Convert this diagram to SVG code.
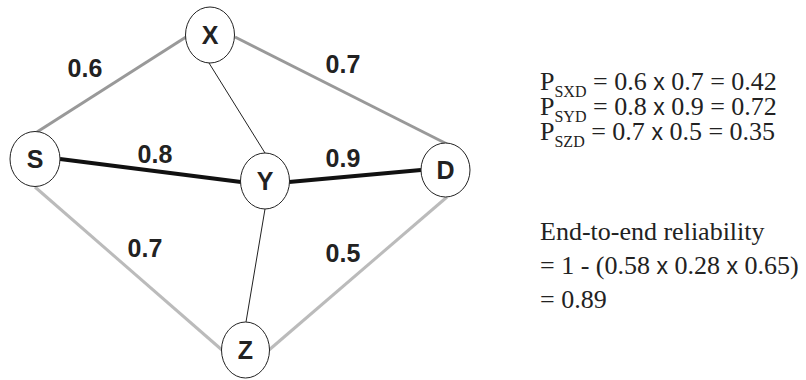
<svg xmlns="http://www.w3.org/2000/svg" width="806" height="380" viewBox="0 0 806 380">
  <style>
    .node ellipse { fill: #fff; stroke: #222; stroke-width: 1; }
    .node text { font-family: "Liberation Sans", Arial, sans-serif; font-weight: bold; font-size: 25px; fill: #222; text-anchor: middle; }
    .mid { stroke: #999; stroke-width: 3; fill: none; }
    .low { stroke: #bbb; stroke-width: 3; fill: none; }
    .strong { stroke: #111; stroke-width: 4; fill: none; }
    .thin { stroke: #222; stroke-width: 1; fill: none; }
    .w { font-family: "Liberation Sans", Arial, sans-serif; font-weight: bold; font-size: 25px; fill: #222; text-anchor: middle; }
    .eq { font-family: "Liberation Serif", "Times New Roman", serif; font-size: 26px; fill: #222; }
    .sub { font-size: 16px; }
    .x { font-family: "Liberation Sans", Arial, sans-serif; font-size: 23px; }
  </style>

  <!-- links -->
  <g id="connectors">
    <line class="mid" x1="37" y1="132" x2="186" y2="37"/>
    <line class="mid" x1="235" y1="37" x2="447" y2="144"/>
    <line class="thin" x1="209" y1="63" x2="265" y2="153"/>
    <line class="strong" x1="60" y1="159" x2="241" y2="182"/>
    <line class="strong" x1="289" y1="182" x2="421" y2="170"/>
    <line class="low" x1="35" y1="187" x2="222" y2="350"/>
    <line class="low" x1="269" y1="350" x2="447" y2="197"/>
    <line class="thin" x1="265" y1="209" x2="246" y2="322"/>
  </g>

  <!-- link weights -->
  <g id="weights">
    <text class="w" x="85" y="77">0.6</text>
    <text class="w" x="343" y="73">0.7</text>
    <text class="w" x="155" y="163">0.8</text>
    <text class="w" x="343" y="167">0.9</text>
    <text class="w" x="145" y="257">0.7</text>
    <text class="w" x="343" y="262">0.5</text>
  </g>

  <g id="node-X" class="node">
    <ellipse cx="210" cy="35" rx="24.5" ry="28"/>
    <text x="210" y="44">X</text>
  </g>
  <g id="node-S" class="node">
    <ellipse cx="35" cy="159" rx="25" ry="27.5"/>
    <text x="35" y="168">S</text>
  </g>
  <g id="node-Y" class="node">
    <ellipse cx="265" cy="181" rx="24.5" ry="28"/>
    <text x="265" y="190">Y</text>
  </g>
  <g id="node-D" class="node">
    <ellipse cx="445.5" cy="170" rx="24.5" ry="27"/>
    <text x="445.5" y="179">D</text>
  </g>
  <g id="node-Z" class="node">
    <ellipse cx="245.5" cy="350" rx="24" ry="28"/>
    <text x="245.5" y="359">Z</text>
  </g>

  <!-- path reliabilities -->
  <g id="path-probabilities" class="eq">
    <text x="540" y="90">P<tspan class="sub" dy="7">SXD</tspan><tspan dy="-7"> = 0.6 </tspan><tspan class="x">x</tspan> 0.7 = 0.42</text>
    <text x="540" y="115">P<tspan class="sub" dy="7">SYD</tspan><tspan dy="-7"> = 0.8 </tspan><tspan class="x">x</tspan> 0.9 = 0.72</text>
    <text x="540" y="140">P<tspan class="sub" dy="7">SZD</tspan><tspan dy="-7"> = 0.7 </tspan><tspan class="x">x</tspan> 0.5 = 0.35</text>
  </g>

  <g id="end-to-end" class="eq">
    <text x="540" y="240">End-to-end reliability</text>
    <text x="540" y="274">= 1 - (0.58 <tspan class="x">x</tspan> 0.28 <tspan class="x">x</tspan> 0.65)</text>
    <text x="540" y="308">= 0.89</text>
  </g>
</svg>
